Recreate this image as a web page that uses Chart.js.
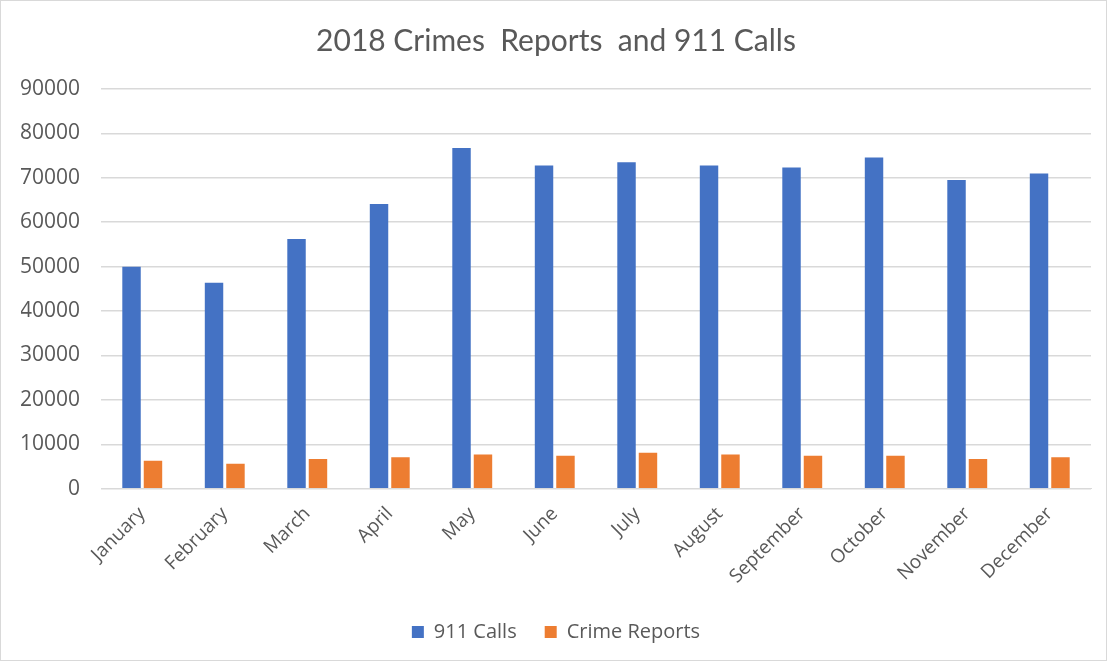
<!DOCTYPE html>
<html>
<head>
<meta charset="utf-8">
<script src="https://cdn.jsdelivr.net/npm/chart.js@4/dist/chart.umd.min.js"></script>
<style>
  html, body { margin: 0; padding: 0; background: #fff; }
  #wrap { position: relative; width: 1105px; height: 659px; border: 1px solid #d9d9d9; }
</style>
</head>
<body>
<div id="wrap"><canvas id="crimeChart"></canvas></div>
<script>
// Monthly figures for 2018
const months = ['January', 'February', 'March', 'April', 'May', 'June',
                'July', 'August', 'September', 'October', 'November', 'December']
const calls911     = [50000, 46400, 56200, 64100, 76700, 72800, 73500, 72800, 72300, 74600, 69500, 71000]
const crimeReports = [6300, 5600, 6700, 7100, 7700, 7400, 8100, 7700, 7400, 7400, 6700, 7100]
const yTicks = [0, 10000, 20000, 30000, 40000, 50000, 60000, 70000, 80000, 90000]

const TITLE_FONT = 'Lato, "Open Sans", sans-serif'
const FONT = '"Open Sans", Lato, sans-serif'
const GREY = '#595959'

/* global Chart */
new Chart(document.getElementById('crimeChart'), {
  type: 'bar',
  data: {
    labels: months,
    datasets: [
      { label: '911 Calls',     data: calls911,     backgroundColor: '#4472c4' },
      { label: 'Crime Reports', data: crimeReports, backgroundColor: '#ed7d31' }
    ]
  },
  options: {
    responsive: true, maintainAspectRatio: false, animation: false,
    categoryPercentage: 0.52, barPercentage: 0.86,
    layout: { padding: { left: 20, right: 15, top: 18, bottom: 8 } },
    plugins: {
      title: {
        display: true, text: '2018 Crimes  Reports  and 911 Calls',
        color: GREY, font: { family: TITLE_FONT, size: 30, weight: 'normal' },
        padding: { top: 4, bottom: 30 }
      },
      legend: {
        position: 'bottom',
        labels: {
          color: GREY, font: { family: FONT, size: 20 },
          boxWidth: 12, boxHeight: 12, padding: 28
        }
      },
      tooltip: { enabled: false }
    },
    scales: {
      x: {
        grid: { display: false },
        border: { color: '#d9d9d9' },
        ticks: { color: GREY, font: { family: FONT, size: 19 }, minRotation: 45, maxRotation: 45, padding: 6 }
      },
      y: {
        min: 0, max: 90000,
        afterBuildTicks: axis => { axis.ticks = yTicks.map(v => ({ value: v })) },
        // fixed gutter for the value labels
        afterFit: axis => { axis.width = 80 },
        grid: { color: '#d9d9d9', lineWidth: 1.5, drawTicks: false },
        border: { display: false },
        ticks: { color: GREY, font: { family: FONT, size: 21 }, padding: 21, callback: v => String(v) }
      }
    }
  }
})
</script>
</body>
</html>
